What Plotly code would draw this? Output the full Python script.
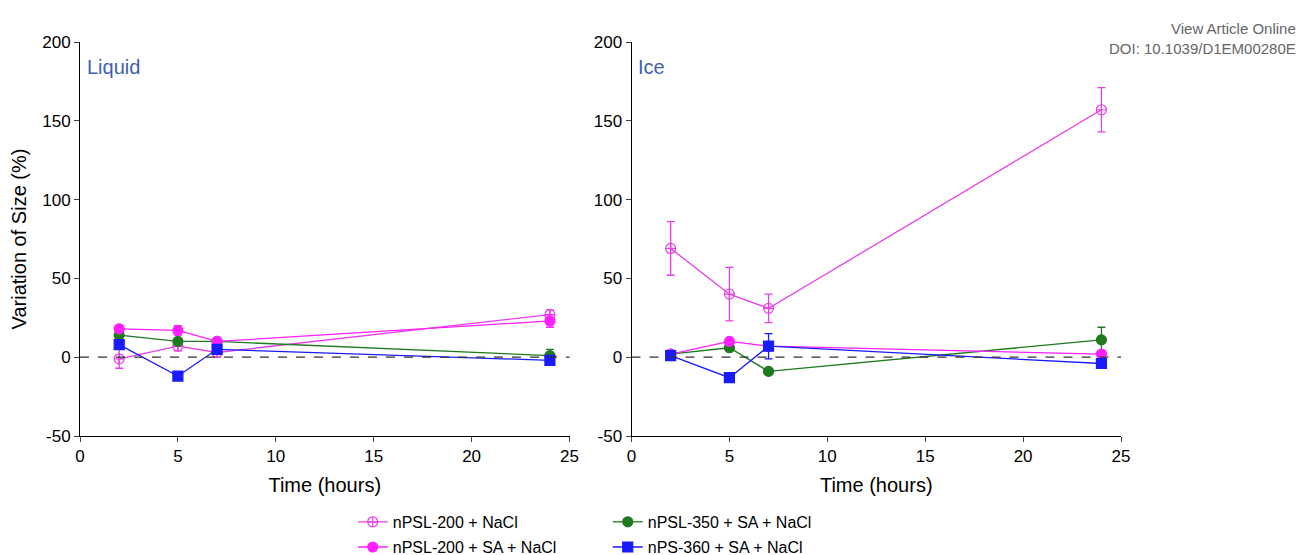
import plotly.graph_objects as go
from plotly.subplots import make_subplots

time_h = [2, 5, 7, 24]
y_ticks = [-50, 0, 50, 100, 150, 200]
y_tick_labels = ["-50", "0", "50", "100", "150", "200"]

# Liquid panel
liq_psl200 = [-1, 7, 3, 27]
liq_psl200_err = [6, 3, 3, 3]
liq_psl200_sa = [18, 17, 10, 23]
liq_psl200_sa_err = [1, 3, 1, 4]
liq_psl350_sa = [14, 10, 10, 1]
liq_psl350_sa_err = [1, 1, 1, 4]
liq_ps360_sa = [8, -12, 5, -2]
liq_ps360_sa_err = [1, 1, 1, 1]

# Ice panel
ice_psl200 = [69, 40, 31, 157]
ice_psl200_err = [17, 17, 9, 14]
ice_psl200_sa = [2, 10, 7, 2]
ice_psl200_sa_err = [1, 1, 1, 1]
ice_psl350_sa = [2, 6, -9, 11]
ice_psl350_sa_err = [1, 1, 1, 8]
ice_ps360_sa = [1, -13, 7, -4]
ice_ps360_sa_err = [3, 1, 8, 1]

series = [
    ("nPSL-200 + NaCl", "#e83ee8", "circle-cross-open", liq_psl200, liq_psl200_err, ice_psl200, ice_psl200_err, "legend"),
    ("nPSL-350 + SA + NaCl", "#1f7a1f", "circle", liq_psl350_sa, liq_psl350_sa_err, ice_psl350_sa, ice_psl350_sa_err, "legend"),
    ("nPSL-200 + SA + NaCl", "#ff1fff", "circle", liq_psl200_sa, liq_psl200_sa_err, ice_psl200_sa, ice_psl200_sa_err, "legend2"),
    ("nPS-360 + SA + NaCl", "#1a1aff", "square", liq_ps360_sa, liq_ps360_sa_err, ice_ps360_sa, ice_ps360_sa_err, "legend2"),
]

fig = make_subplots(rows=1, cols=2, horizontal_spacing=62 / 1041)

for name, color, symbol, ly, le, iy, ie, leg in series:
    for col, (y, err) in enumerate([(ly, le), (iy, ie)], start=1):
        fig.add_trace(go.Scatter(
            x=time_h, y=y, name=name, mode="lines+markers",
            line=dict(color=color, width=1.3),
            marker=dict(symbol=symbol, size=10, color=color,
                        line=dict(color=color, width=1.2)),
            error_y=dict(type="data", array=err, color=color, thickness=1.3, width=4),
            showlegend=(col == 1), legend=leg,
        ), row=1, col=col)

for col in (1, 2):
    fig.add_hline(y=0, line=dict(color="#333", dash="dash", width=1.2), row=1, col=col)
    fig.update_xaxes(range=[0, 25], dtick=5, ticks="outside", showline=True,
                     linecolor="black", mirror=False, showgrid=False, zeroline=False,
                     title_text="Time (hours)", title_standoff=12, row=1, col=col)
    fig.update_yaxes(range=[-50, 200], tickvals=y_ticks, ticktext=y_tick_labels,
                     ticks="outside", showline=True,
                     linecolor="black", showgrid=False, zeroline=False, row=1, col=col)
fig.update_yaxes(title_text="Variation of Size (%)", row=1, col=1)

fig.add_annotation(text="Liquid", x=0.01, y=0.97, xref="x domain", yref="y domain",
                   showarrow=False, xanchor="left", font=dict(color="#3f5fb0", size=20))
fig.add_annotation(text="Ice", x=0.01, y=0.97, xref="x2 domain", yref="y2 domain",
                   showarrow=False, xanchor="left", font=dict(color="#3f5fb0", size=20))
fig.add_annotation(text="View Article Online<br>DOI: 10.1039/D1EM00280E",
                   x=1.17, y=1.06, xref="paper", yref="paper", showarrow=False,
                   align="right", xanchor="right", yanchor="top",
                   font=dict(color="#666", size=15))

legend_style = dict(orientation="h", xanchor="left", yanchor="middle",
                    font=dict(size=16, color="black"),
                    entrywidth=210, bgcolor="rgba(0,0,0,0)")
fig.update_layout(
    width=1309, height=555,
    margin=dict(l=72, r=196, t=34, b=127, autoexpand=False),
    paper_bgcolor="white", plot_bgcolor="white",
    font=dict(family="Liberation Sans, Arial", size=17, color="black"),
    legend=dict(x=0.262, y=-0.218, **legend_style),
    legend2=dict(x=0.262, y=-0.282, **legend_style),
)

fig.write_html("out.html")
